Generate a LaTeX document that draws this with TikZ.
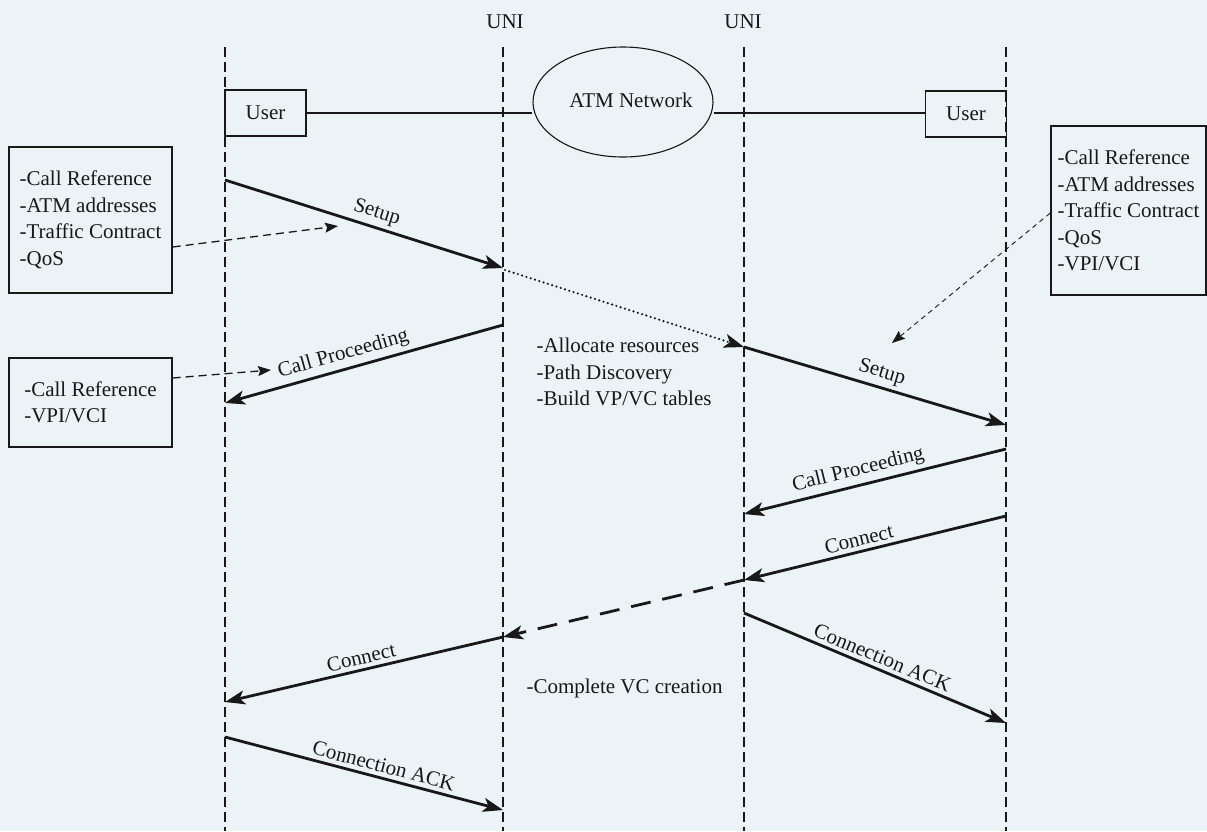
\documentclass[tikz,border=0pt]{standalone}
\usepackage{fontspec}
\setmainfont{Liberation Serif}
\usetikzlibrary{arrows.meta,shapes.geometric,calc}
\definecolor{bgc}{RGB}{235,243,246}
\definecolor{ink}{RGB}{24,24,24}
\begin{document}
\begin{tikzpicture}[x=1pt,y=-1pt,
  every node/.style={font=\fontsize{21}{26.5}\selectfont, text=ink},
  life/.style={draw=ink, line width=1.2pt, dash pattern=on 10pt off 5pt},
  tip/.style={-{Stealth[length=20pt,width=14pt,inset=5pt]}},
  msg/.style={draw=ink, line width=2.8pt, tip},
  dotmsg/.style={draw=ink, line width=2.4pt, line cap=round, dash pattern=on 0pt off 4.5pt, tip},
  dashmsg/.style={draw=ink, line width=2.8pt, dash pattern=on 20pt off 12pt, tip},
  lbl/.style={sloped, above, inner sep=4pt},
  ptr/.style={draw=ink, line width=1.3pt, dash pattern=on 8pt off 5pt, -{Stealth[length=13pt,width=10pt,inset=2pt]}},
  thinptr/.style={draw=ink, line width=0.9pt, dash pattern=on 5pt off 4pt, -{Stealth[length=13pt,width=10pt,inset=2pt]}},
  infobox/.style={draw=ink, line width=1.4pt, align=left, inner sep=0pt},
  userbox/.style={draw=ink, line width=1.4pt, minimum width=81pt, minimum height=46pt, inner sep=0pt},
  plain/.style={draw=ink, line width=1.4pt}
]
\fill[bgc] (0,0) rectangle (1207,831);
\useasboundingbox (0,0) rectangle (1207,831);

% lifelines
\coordinate (t1) at (225,47);  \coordinate (e1) at (225,831);
\coordinate (t2) at (503,47);  \coordinate (e2) at (503,831);
\coordinate (t3) at (744,47);  \coordinate (e3) at (744,831);
\coordinate (t4) at (1006,47); \coordinate (e4) at (1006,831);
\draw[life] (t1) -- (e1);
\draw[life] (t2) -- (e2);
\draw[life] (t3) -- (e3);
\draw[life] (t4) -- (e4);

\node (uni1) at (505,22) {UNI};
\node (uni2) at (743,22) {UNI};

% top row
\node[userbox] (user1) at (265.5,113) {User};
\node[userbox] (user2) at (966,114) {User};
\node[ellipse, draw=ink, line width=1.1pt, minimum width=180pt, minimum height=110pt, inner sep=0pt] (atm) at (623,102) {};
\node (atmtxt) at (631,100) {ATM Network};
\draw[plain] (user1.east) -- (atm.west |- user1.east);
\draw[plain] (atm.east |- user1.east) -- (user2.west |- user1.east);

% info boxes
\node[infobox, minimum width=163pt, minimum height=146pt] (box1) at (90.5,220)
  {-Call Reference\\-ATM addresses\\-Traffic Contract\\-QoS};
\node[infobox, minimum width=163pt, minimum height=89pt] (box2) at (90.5,402.5)
  {-Call Reference\\-VPI/VCI};
\node[infobox, minimum width=155pt, minimum height=169pt] (box3) at (1128.5,210.5)
  {-Call Reference\\-ATM addresses\\-Traffic Contract\\-QoS\\-VPI/VCI};

% message end points
\coordinate (s1a) at (225,180);   \coordinate (s1b) at (503,268);
\coordinate (d1a) at (505,270);   \coordinate (d1b) at (744,347);
\coordinate (s2a) at (744,347);   \coordinate (s2b) at (1006,425);
\coordinate (cp1a) at (503,325);  \coordinate (cp1b) at (225,403);
\coordinate (cp2a) at (1006,449); \coordinate (cp2b) at (744,514);
\coordinate (cn1a) at (1006,516); \coordinate (cn1b) at (744,580);
\coordinate (dca) at (744,580);   \coordinate (dcb) at (503,637);
\coordinate (cn2a) at (503,637);  \coordinate (cn2b) at (225,702);
\coordinate (ak1a) at (744,613);  \coordinate (ak1b) at (1006,723);
\coordinate (ak2a) at (225,737);  \coordinate (ak2b) at (503,810);

\draw[msg] (s1a) -- node[lbl, pos=0.53] {Setup} (s1b);
\draw[dotmsg] (d1a) -- (d1b);
\draw[msg] (s2a) -- node[lbl, pos=0.51] {Setup} (s2b);
\draw[msg] (cp1a) -- node[lbl, pos=0.56] {Call Proceeding} (cp1b);
\draw[msg] (cp2a) -- node[lbl, pos=0.55] {Call Proceeding} (cp2b);
\draw[msg] (cn1a) -- node[lbl, pos=0.55] {Connect} (cn1b);
\draw[dashmsg] (dca) -- (dcb);
\draw[msg] (cn2a) -- node[lbl, pos=0.5] {Connect} (cn2b);
\draw[msg] (ak1a) -- node[lbl, pos=0.51] {Connection ACK} (ak1b);
\draw[msg] (ak2a) -- node[lbl, pos=0.56] {Connection ACK} (ak2b);

% pointers
\coordinate (p1) at (338,226);
\coordinate (p2) at (271,370);
\coordinate (p3) at (892,343);
\draw[ptr] ($(box1.east)+(0,27)$) -- (p1);
\draw[ptr] ($(box2.east)+(0,-24.5)$) -- (p2);
\draw[thinptr] ($(box3.west)+(0,2.5)$) -- (p3);

% notes
\node[anchor=west, align=left] (alloc) at (533,372)
  {-Allocate resources\\-Path Discovery\\-Build VP/VC tables};
\node[anchor=west] (vc) at (523,688) {-Complete VC creation};
\end{tikzpicture}
\end{document}
